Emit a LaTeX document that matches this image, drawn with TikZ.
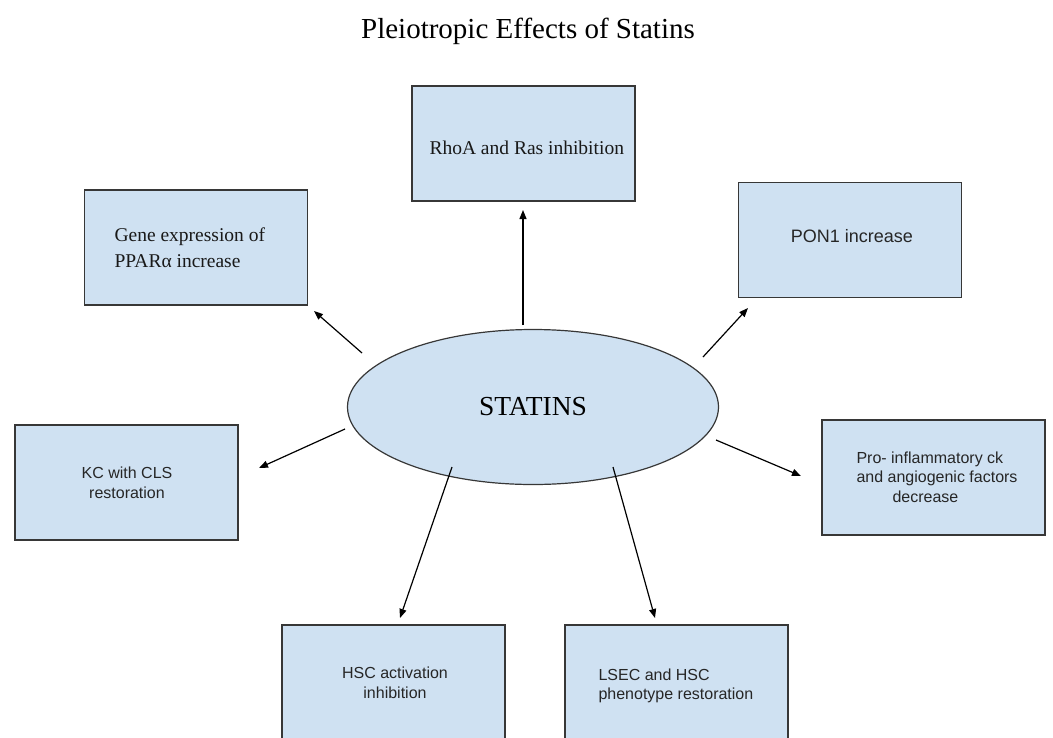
\documentclass[tikz,border=0pt]{standalone}
\usepackage{fontspec}
\usepackage{amsmath}
\setmainfont{Liberation Serif}
\setsansfont{Liberation Sans}
\usetikzlibrary{shapes.geometric,arrows.meta}

\definecolor{statblue}{RGB}{207,225,242}
\definecolor{edgegray}{RGB}{55,55,55}

\begin{document}
\begin{tikzpicture}
  [x=1pt,y=-1pt,
   box/.style={rectangle,draw=edgegray,fill=statblue,line width=1.4pt,
     minimum width=223pt,minimum height=115pt,inner sep=0pt},
   sanstxt/.style={font=\sffamily\fontsize{16}{19.5}\selectfont,text=black!85},
   seriftxt/.style={font=\fontsize{19.5}{26}\selectfont,text=black!90},
   arr/.style={-{Triangle[length=9pt,width=7pt]},line width=1.2pt}]
  \useasboundingbox (0,0) rectangle (1053,737);
  \clip (0,0) rectangle (1053,737);

  \node[font=\fontsize{29}{34}\selectfont] (title) at (528,31) {Pleiotropic Effects of Statins};

  % boxes
  \node[box] (rhoa) at (523.5,143.5) {};
  \node[box] (gene) at (196,247.5)   {};
  \node[box] (pon)  at (850,240)     {};
  \node[box] (kc)   at (126.5,482.5) {};
  \node[box] (pro)  at (933.5,477.5) {};
  \node[box,minimum height=125pt] (hsc)  at (393.5,687.5) {};
  \node[box,minimum height=125pt] (lsec) at (676.5,687.5) {};

  \node[ellipse,draw=edgegray,fill=statblue,line width=1.2pt,
    minimum width=371pt,minimum height=155pt,
    font=\fontsize{27.5}{30}\selectfont] (statins) at (533,407) {STATINS};

  % texts
  \node[seriftxt,anchor=west] (rhoatxt) at (426,148) {RhoA and Ras inhibition};
  \node[seriftxt,anchor=west,align=left] (genetxt) at (111,248)
    {Gene expression of\\PPARα increase};
  \node[sanstxt,font=\sffamily\fontsize{18}{20}\selectfont] (pontxt) at (852,236) {PON1 increase};
  \node[sanstxt,align=center] (kctxt) at (127,483) {KC with CLS\\restoration};
  \node[sanstxt,anchor=west,align=left] (protxt) at (853,477)
    {Pro- inflammatory ck\\and angiogenic factors\\\hspace*{36pt}decrease};
  \node[sanstxt,align=center] (hsctxt) at (395,683) {HSC activation\\inhibition};
  \node[sanstxt,anchor=west,align=left] (lsectxt) at (595,686)
    {LSEC and HSC\\phenotype restoration};

  % arrow ends
  \coordinate (s1) at (523,325); \coordinate (t1) at (523,210);
  \coordinate (s2) at (362,353); \coordinate (t2) at (314,311);
  \coordinate (s3) at (703,357); \coordinate (t3) at (748,308);
  \coordinate (s4) at (345,429); \coordinate (t4) at (259,468);
  \coordinate (s5) at (716,440); \coordinate (t5) at (801,476);
  \coordinate (s6) at (452,467); \coordinate (t6) at (400,618);
  \coordinate (s7) at (613,467); \coordinate (t7) at (655,618);

  \foreach \from/\to in {s1/t1, s2/t2, s3/t3, s4/t4, s5/t5, s6/t6, s7/t7}
    \draw[arr] (\from) -- (\to);

\end{tikzpicture}
\end{document}
